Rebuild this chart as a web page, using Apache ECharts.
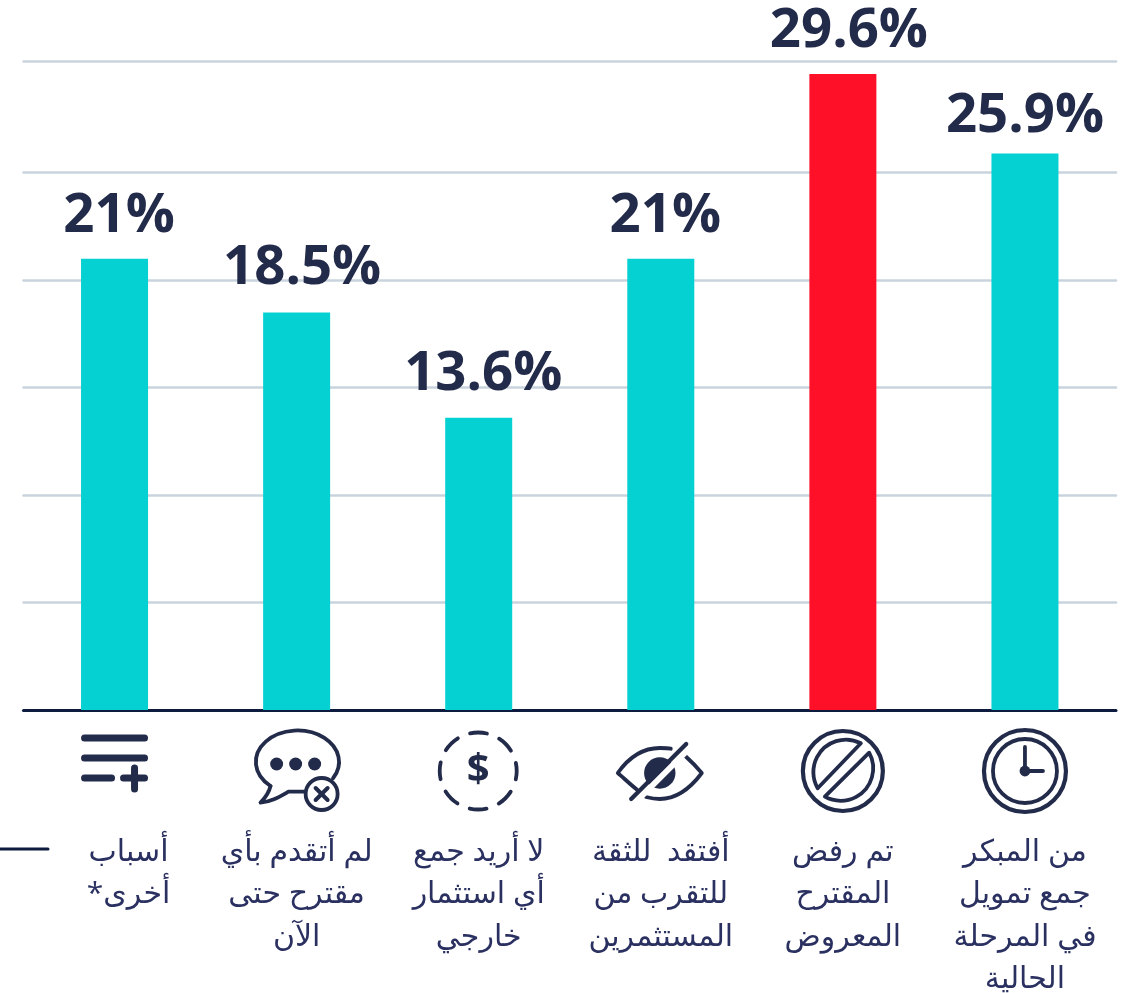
<!DOCTYPE html>
<html>
<head>
<meta charset="utf-8">
<style>html,body{margin:0;padding:0;background:#fff}#c{width:1124px;height:993px}</style>
<script src="https://cdn.jsdelivr.net/npm/echarts@6/dist/echarts.min.js"></script>
</head>
<body>
<div id="c"></div>
<script>
const categories = [
  'أسباب\nأخرى*\u200f',
  'لم أتقدم بأي\nمقترح حتى\nالآن',
  'لا أريد جمع\nأي استثمار\nخارجي',
  'أفتقد  للثقة\nللتقرب من\nالمستثمرين',
  'تم رفض\nالمقترح\nالمعروض',
  'من المبكر\nجمع تمويل\nفي المرحلة\nالحالية'
];
const values = [21, 18.5, 13.6, 21, 29.6, 25.9];
const valueLabels = ['21%', '18.5%', '13.6%', '21%', '29.6%', '25.9%'];
const icons = ['more', 'chat', 'dollar', 'eye', 'ban', 'clock'];
const gridTicks = [0, 5, 10, 15, 20, 25, 30.2];
const labelNudge = [[4.5, 0], [5.5, -1], [4.5, -1], [4.5, 0], [6, 0], [0, 6]];
const TEAL = '#05d0d2', RED = '#ff1029', NAVY = '#232b4a', TEXT = '#2a3060';
const FONT = '"Open Sans","Noto Sans","DejaVu Sans",sans-serif';

function stroke(w) { return { fill: null, stroke: NAVY, lineWidth: w, lineCap: 'round', lineJoin: 'round' }; }
function line(x1, y1, x2, y2, w) { return { type: 'line', shape: { x1, y1, x2, y2 }, style: stroke(w) }; }
function circle(cx, cy, r, w) { return { type: 'circle', shape: { cx, cy, r }, style: stroke(w) }; }
function disc(cx, cy, r) { return { type: 'circle', shape: { cx, cy, r }, style: { fill: NAVY } }; }
function rawPath(d, w) { return { type: 'path', shape: { pathData: d }, style: stroke(w) }; }

const iconShapes = {
  more: () => [
    line(-30, -32, 30, -32, 7), line(-30, -12, 30, -12, 7), line(-30, 8, -3, 8, 7),
    line(9, 8, 30, 8, 7), line(20, -2, 20, 19, 7)
  ],
  chat: () => [
    rawPath('M-26.1 16 A41.6 31.5 0 1 1 36.4 8.3', 3.8),
    rawPath('M-26.1 16 C-27.5 22 -31.5 28 -36.1 32.7 C-25.5 32 -17.5 27 -8.2 21.7 L7.9 21.7', 3.8),
    disc(-20, -6, 6.5), disc(-1, -6, 6.5), disc(18, -6, 6.5),
    { type: 'circle', shape: { cx: 25, cy: 24, r: 16 }, style: { fill: '#fff', stroke: NAVY, lineWidth: 3.8 } },
    line(19, 18, 31, 30, 4), line(31, 18, 19, 30, 4)
  ],
  dollar: () => [
    { type: 'circle', shape: { cx: -0.5, cy: 1, r: 38.5 },
      style: { fill: null, stroke: NAVY, lineWidth: 3.8, lineCap: 'round', lineDash: [17, 13.24], lineDashOffset: 8.5 } },
    { type: 'text', style: { text: '$', x: -0.5, y: 1, align: 'center', verticalAlign: 'middle', fill: NAVY,
      font: 'bold 40px "Open Sans",sans-serif' } }
  ],
  eye: () => [
    rawPath('M-23.7 18.7 C-31 13 -37 7 -43 2 C-31 -15 -16 -23 -1 -23 C3 -23 7 -23 10 -22.3', 3.8),
    rawPath('M24.5 -15 C30 -10 36 -4 41 2 C29 18 14 28 -1 28 C-6 28 -11 27 -14.8 26', 3.8),
    disc(-1, 2, 15.7),
    { type: 'line', shape: { x1: 29, y1: -23, x2: -28, y2: 34 }, style: { stroke: '#fff', lineWidth: 6 } },
    line(25.4, -27, -29.6, 28, 4.2)
  ],
  ban: () => [
    circle(0, 0, 40, 4.2),
    rawPath('M18 -27.7 A32.5 32.5 0 0 0 -25.2 17.3 Z', 3.8),
    rawPath('M26.3 -18.3 A32.5 32.5 0 0 1 -18 25.7 Z', 3.8)
  ],
  clock: () => [
    circle(0, 0, 41, 4.2), circle(0, 0, 32, 3.8),
    line(0, 0, 0, -24, 3.8), line(0, 0, 18, 0, 3.8), disc(0, 0, 5.4)
  ]
};
const iconCentreY = [770, 770, 770, 771, 771, 771];

const chart = echarts.init(document.getElementById('c'), null, { renderer: 'canvas' });
chart.setOption({
  animation: false,
  backgroundColor: '#fff',
  grid: { left: 23.5, right: 8, top: 61, bottom: 283, containLabel: false, outerBoundsMode: 'none' },
  xAxis: {
    type: 'category',
    data: categories,
    axisLine: { show: true, lineStyle: { color: '#0d1b3e', width: 3, cap: 'round' } },
    axisTick: { show: false },
    axisLabel: {
      interval: 0, margin: 121, color: TEXT, fontFamily: FONT, fontSize: 30, lineHeight: 42.5,
      verticalAlign: 'top', align: 'center', hideOverlap: false,
      formatter: (v, i) => i === 0 ? v.split('\n').map(s => '{shift|' + s + '}').join('\n') : v,
      rich: { shift: { color: TEXT, fontFamily: FONT, fontSize: 30, lineHeight: 42.5, padding: [0, 0, 0, 28] } }
    }
  },
  yAxis: {
    type: 'value',
    min: 0,
    max: 30.2,
    axisLine: { show: false },
    axisTick: { show: false, customValues: gridTicks },
    axisLabel: { show: false },
    splitLine: { show: true, lineStyle: { color: '#c9d3de', width: 2.5, cap: 'round' } }
  },
  series: [
    {
      type: 'bar',
      z: 3,
      barWidth: 67,
      data: values.map((v, i) => ({
        value: v,
        itemStyle: { color: v === Math.max(...values) ? RED : TEAL },
        label: { offset: labelNudge[i] }
      })),
      label: {
        show: true, position: 'top', distance: 15, color: NAVY,
        fontFamily: FONT, fontWeight: 700, fontSize: 54.5,
        formatter: p => valueLabels[p.dataIndex]
      }
    },
    {
      type: 'custom',
      silent: true,
      clip: false,
      z: 4,
      data: values.map((_, i) => [i, 0]),
      encode: { x: 0, y: 1 },
      renderItem: (params, api) => {
        const i = api.value(0);
        const p = api.coord([i, 0]);
        return { type: 'group', x: p[0], y: iconCentreY[i], children: iconShapes[icons[i]]() };
      }
    }
  ],
  graphic: [
    { type: 'line', shape: { x1: 0, y1: 849, x2: 48, y2: 849 },
      style: { stroke: '#0d1b3e', lineWidth: 3, lineCap: 'round' } }
  ]
});
</script>
</body>
</html>
